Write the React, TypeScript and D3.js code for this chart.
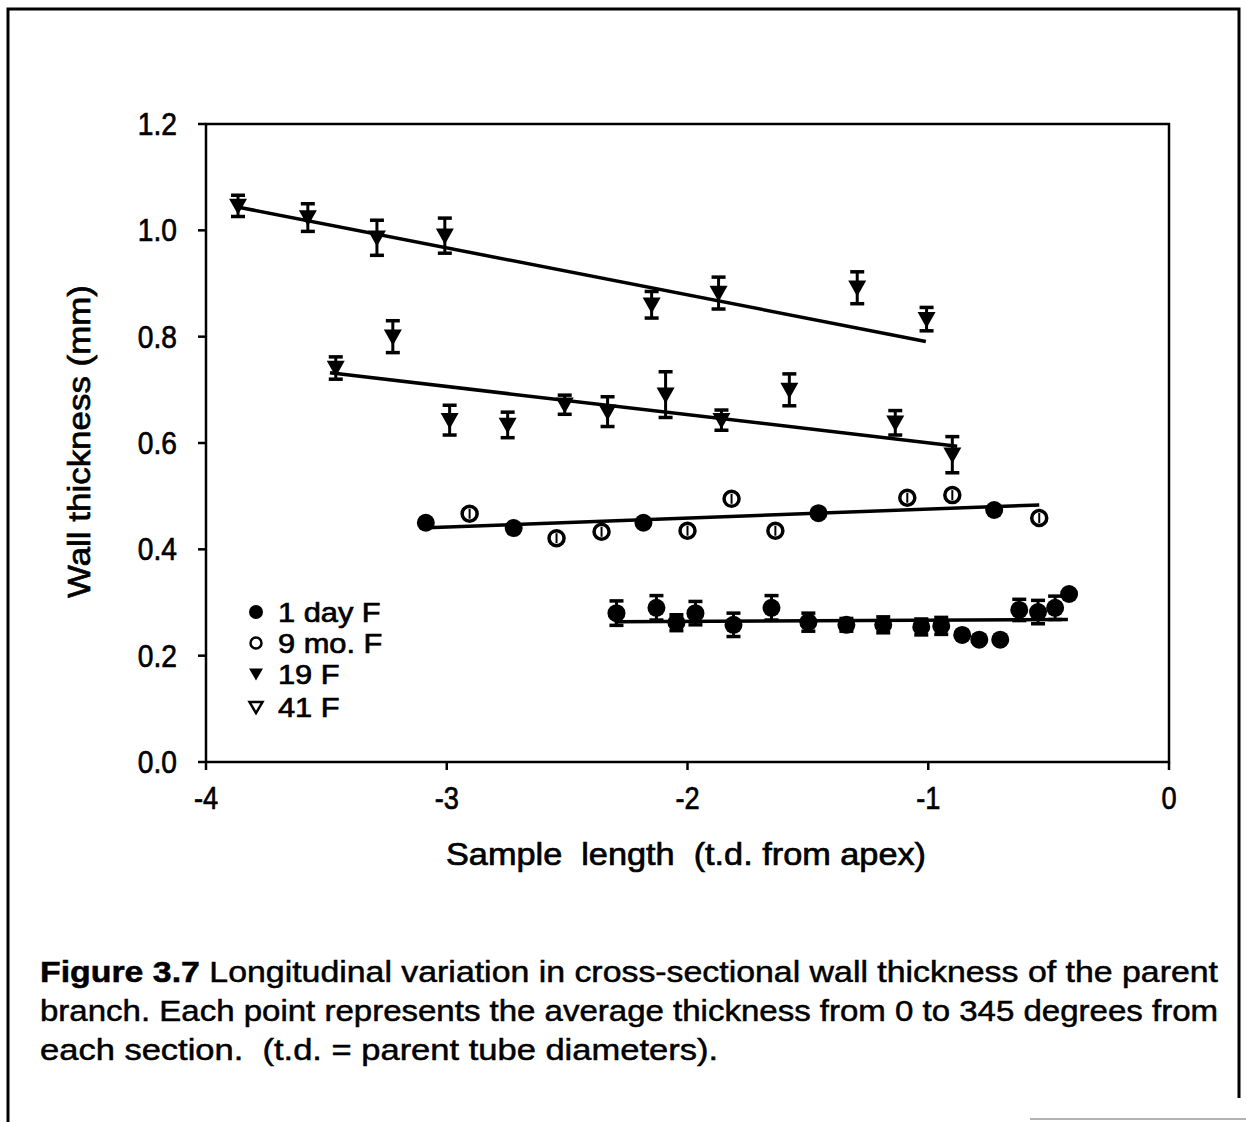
import React from "react";
import * as d3 from "d3";

// ---- data ----
const xTicks = [-4, -3, -2, -1, 0];
const yTicks = [0.0, 0.2, 0.4, 0.6, 0.8, 1.0, 1.2];

// 41 F (upper triangles)
const f41X = [-3.867, -3.577, -3.29, -3.008, -2.149, -1.871, -1.295, -1.007];
const f41Y = [1.046, 1.024, 0.986, 0.99, 0.86, 0.882, 0.892, 0.833];
const f41Err = [0.02, 0.026, 0.033, 0.033, 0.025, 0.03, 0.03, 0.022];
const f41FitX = [-3.87, -1.01];
const f41FitY = [1.044, 0.791];

// 19 F (lower triangles)
const f19X = [-3.461, -3.224, -2.988, -2.747, -2.51, -2.332, -2.091, -1.859, -1.577, -1.137, -0.9];
const f19Y = [0.741, 0.8, 0.643, 0.634, 0.672, 0.659, 0.691, 0.643, 0.7, 0.638, 0.578];
const f19Err = [0.021, 0.03, 0.028, 0.024, 0.018, 0.028, 0.043, 0.019, 0.03, 0.023, 0.034];
const f19FitX = [-3.485, -0.88];
const f19FitY = [0.732, 0.594];

// 9 mo. F (circles ~0.45)
const m9X = [-3.087, -2.905, -2.722, -2.544, -2.357, -2.183, -2.0, -1.817, -1.635, -1.456, -1.087, -0.9, -0.726, -0.539];
const m9Y = [0.45, 0.467, 0.44, 0.421, 0.433, 0.45, 0.435, 0.495, 0.435, 0.468, 0.497, 0.502, 0.474, 0.459];
const m9Solid = [0, 2, 5, 9, 12];
const m9FitX = [-3.112, -0.539];
const m9FitY = [0.44, 0.4835];

// 1 day F (filled circles ~0.27)
const d1X = [-2.295, -2.129, -2.046, -1.967, -1.809, -1.651, -1.498, -1.34, -1.187, -1.029, -0.946, -0.859, -0.788, -0.701, -0.622, -0.544, -0.473, -0.415];
const d1Y = [0.28, 0.29, 0.262, 0.28, 0.258, 0.29, 0.263, 0.258, 0.258, 0.254, 0.256, 0.239, 0.23, 0.23, 0.286, 0.282, 0.29, 0.316];
const d1Err = [0.023, 0.023, 0.015, 0.022, 0.022, 0.023, 0.017, 0.012, 0.015, 0.015, 0.016, 0.0, 0.0, 0.0, 0.02, 0.022, 0.022, 0.0];
const d1FitX = [-2.303, -0.42];
const d1FitY = [0.264, 0.268];

const legendLabels = ["1 day F", "9 mo. F", "19 F", "41 F"];

const captionLines = [
  "Longitudinal variation in cross-sectional wall thickness of the parent",
  "branch. Each point represents the average thickness from 0 to 345 degrees from",
  "each section.  (t.d. = parent tube diameters).",
];

const FONT = "'Liberation Sans', Arial, sans-serif";
const TS = { stroke: "#000", strokeWidth: 0.7 } as const;

export default function App() {
  const x = d3.scaleLinear().domain([-4, 0]).range([206, 1169]);
  const y = d3.scaleLinear().domain([0, 1.2]).range([762, 124]);
  const line = d3.line<[number, number]>().x((d) => x(d[0])).y((d) => y(d[1]));

  const tri = (cx: number, cy: number, w: number, h: number) =>
    `M${cx - w / 2},${cy - h * 0.45}L${cx + w / 2},${cy - h * 0.45}L${cx},${cy + h * 0.55}Z`;

  const errBar = (xs: number[], ys: number[], es: number[], key: string) =>
    xs.map((xv, i) => {
      const e = es[i];
      if (!e) return null;
      const cx = x(xv);
      return (
        <g key={key + i} stroke="#000">
          <line x1={cx} x2={cx} y1={y(ys[i] + e)} y2={y(ys[i] - e)} strokeWidth={3} />
          <line x1={cx - 7} x2={cx + 7} y1={y(ys[i] + e)} y2={y(ys[i] + e)} strokeWidth={3.5} />
          <line x1={cx - 7} x2={cx + 7} y1={y(ys[i] - e)} y2={y(ys[i] - e)} strokeWidth={3.5} />
        </g>
      );
    });

  const fit = (fx: number[], fy: number[], key: string) => (
    <path key={key} d={line(fx.map((v, i) => [v, fy[i]] as [number, number])) || ""} stroke="#000" strokeWidth={3.5} fill="none" />
  );

  const legendY = [612, 643, 674, 707];

  return (
    <svg width={1246} height={1122} style={{ position: "absolute", left: 0, top: 0, background: "#fff" }}>
      {/* outer border */}
      <path d="M8,1122 L8,9 L1239,9 L1239,1098" stroke="#000" strokeWidth={3} fill="none" />
      <line x1={1030} x2={1246} y1={1119} y2={1119} stroke="#999" strokeWidth={1.5} />

      {/* plot frame */}
      <rect x={206} y={124} width={1169 - 206} height={762 - 124} fill="none" stroke="#000" strokeWidth={2.5} />

      {/* y ticks */}
      {yTicks.map((t) => (
        <g key={"yt" + t}>
          <line x1={198} x2={206} y1={y(t)} y2={y(t)} stroke="#000" strokeWidth={2.5} />
          <text transform={`translate(177,${y(t) + 11}) scale(0.88,1)`} textAnchor="end" fontFamily={FONT} fontSize={32} fill="#000" {...TS}>
            {t.toFixed(1)}
          </text>
        </g>
      ))}
      {/* x ticks */}
      {xTicks.map((t) => (
        <g key={"xt" + t}>
          <line x1={x(t)} x2={x(t)} y1={762} y2={770} stroke="#000" strokeWidth={2.5} />
          <text transform={`translate(${x(t)},${809}) scale(0.85,1)`} textAnchor="middle" fontFamily={FONT} fontSize={32} fill="#000" {...TS}>
            {t === 0 ? "0" : String(t)}
          </text>
        </g>
      ))}

      {/* axis titles */}
      <text x={446} y={865} fontFamily={FONT} fontSize={32} fill="#000" textLength={480} lengthAdjust="spacingAndGlyphs" style={{ whiteSpace: "pre" }} {...TS}>
        {"Sample  length  (t.d. from apex)"}
      </text>
      <text transform="translate(90,598) rotate(-90)" fontFamily={FONT} fontSize={32} fill="#000" textLength={313} lengthAdjust="spacingAndGlyphs" {...TS}>
        Wall thickness (mm)
      </text>

      {/* fit lines */}
      {fit(f41FitX, f41FitY, "f41")}
      {fit(f19FitX, f19FitY, "f19")}
      {fit(m9FitX, m9FitY, "m9")}
      {fit(d1FitX, d1FitY, "d1")}

      {/* 41 F */}
      {errBar(f41X, f41Y, f41Err, "e41")}
      {f41X.map((v, i) => (
        <path key={"p41" + i} d={tri(x(v), y(f41Y[i]), 18, 16)} fill="#000" />
      ))}
      {/* 19 F */}
      {errBar(f19X, f19Y, f19Err, "e19")}
      {f19X.map((v, i) => (
        <path key={"p19" + i} d={tri(x(v), y(f19Y[i]), 18, 16)} fill="#000" />
      ))}
      {/* 9 mo F */}
      {m9X.map((v, i) => {
        const solid = m9Solid.includes(i);
        const cx = x(v);
        const cy = y(m9Y[i]);
        return (
          <g key={"m9" + i}>
            {solid ? (
              <circle cx={cx} cy={cy} r={9} fill="#000" />
            ) : (
              <>
                <circle cx={cx} cy={cy} r={7.5} fill="#fff" stroke="#000" strokeWidth={3.5} />
                <line x1={cx} x2={cx} y1={cy - 5} y2={cy + 5} stroke="#000" strokeWidth={2} />
              </>
            )}
          </g>
        );
      })}
      {/* 1 day F */}
      {errBar(d1X, d1Y, d1Err, "ed1")}
      {d1X.map((v, i) => (
        <circle key={"d1" + i} cx={x(v)} cy={y(d1Y[i])} r={9} fill="#000" />
      ))}

      {/* legend */}
      <circle cx={256} cy={legendY[0]} r={7} fill="#000" />
      <circle cx={256} cy={legendY[1]} r={5.5} fill="#fff" stroke="#000" strokeWidth={2.5} />
      <path d={tri(256, legendY[2], 14, 12)} fill="#000" />
      <path d={tri(256, legendY[3], 13, 11)} fill="#fff" stroke="#000" strokeWidth={2.5} />
      {legendLabels.map((l, i) => (
        <text key={"lg" + i} transform={`translate(278,${legendY[i] + 10}) scale(1.1,1)`} fontFamily={FONT} fontSize={28} fill="#000" {...TS}>
          {l}
        </text>
      ))}

      {/* caption */}
      <text x={40} y={982} fontFamily={FONT} fontSize={29} fill="#000" textLength={1178} lengthAdjust="spacingAndGlyphs" stroke="#000" strokeWidth={0.5}>
        <tspan fontWeight="bold">Figure 3.7</tspan> {captionLines[0]}
      </text>
      <text x={40} y={1021} fontFamily={FONT} fontSize={29} fill="#000" textLength={1178} lengthAdjust="spacingAndGlyphs" stroke="#000" strokeWidth={0.5}>
        {captionLines[1]}
      </text>
      <text x={40} y={1060} fontFamily={FONT} fontSize={29} fill="#000" textLength={678} lengthAdjust="spacingAndGlyphs" style={{ whiteSpace: "pre" }} stroke="#000" strokeWidth={0.5}>
        {captionLines[2]}
      </text>
    </svg>
  );
}
